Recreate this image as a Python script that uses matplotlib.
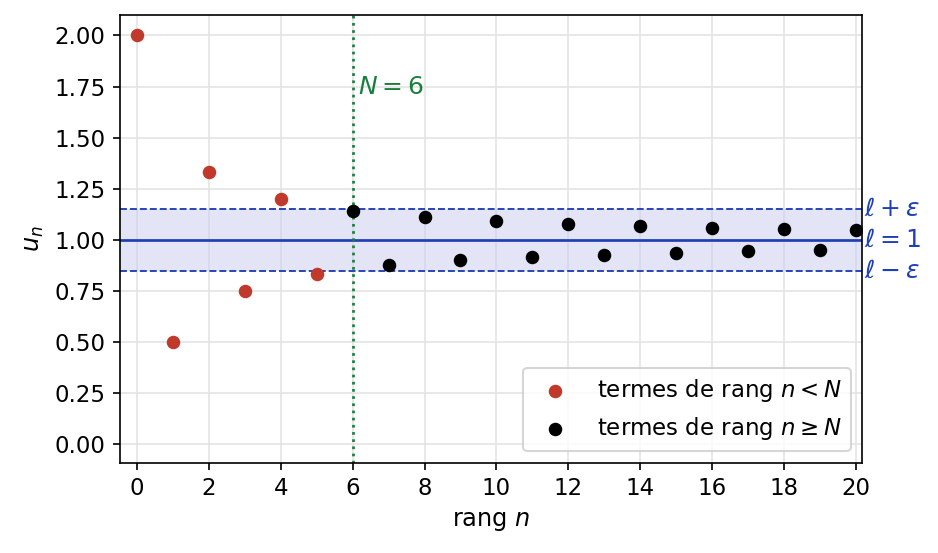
import matplotlib
matplotlib.use("Agg")
import matplotlib.pyplot as plt

# termes u_n
rangs_avant = [0, 1, 2, 3, 4, 5]
termes_avant = [2.0, 0.5, 1.3333, 0.75, 1.2, 0.8333]
rangs_apres = [6, 7, 8, 9, 10, 11, 12, 13, 14, 15, 16, 17, 18, 19, 20]
termes_apres = [1.1429, 0.875, 1.1111, 0.9, 1.0909, 0.9167, 1.0769, 0.9286,
                1.0667, 0.9375, 1.0588, 0.9444, 1.0526, 0.95, 1.0476]
limite = 1.0
epsilon = 0.15
N = 6

bleu = "#1f3fb5"
rouge = "#c0392b"
vert = "#1a7f3c"

fig, ax = plt.subplots(figsize=(938 / 150, 553 / 150), dpi=150)
fig.subplots_adjust(left=0.128, right=0.919, top=0.973, bottom=0.163)

ax.axhspan(limite - epsilon, limite + epsilon, color="#c8cdee", alpha=0.5, lw=0)
ax.axhline(limite, color=bleu, lw=1.3)
ax.axhline(limite + epsilon, color=bleu, lw=0.9, ls="--")
ax.axhline(limite - epsilon, color=bleu, lw=0.9, ls="--")
ax.axvline(N, color=vert, lw=1.3, ls=":")

ax.scatter(rangs_avant, termes_avant, color=rouge, s=30, zorder=3,
           label=r"termes de rang $n < N$")
ax.scatter(rangs_apres, termes_apres, color="black", s=30, zorder=3,
           label=r"termes de rang $n \geq N$")

ax.text(N + 0.15, 1.75, r"$N = 6$", color=vert, fontsize=12, va="center")
for y, t in [(limite + epsilon, r"$\ell + \varepsilon$"),
             (limite, r"$\ell = 1$"),
             (limite - epsilon, r"$\ell - \varepsilon$")]:
    ax.text(1.003, y, t, transform=ax.get_yaxis_transform(), color=bleu,
            fontsize=12, va="center", ha="left")

ax.set_xlim(-0.47, 20.17)
ax.set_ylim(-0.09, 2.1)
ax.set_xticks(range(0, 21, 2))
ax.set_yticks([0, 0.25, 0.5, 0.75, 1.0, 1.25, 1.5, 1.75, 2.0])
ax.tick_params(labelsize=11)
ax.grid(True, color="#e4e4e4", lw=0.8)
ax.set_axisbelow(True)
ax.set_xlabel(r"rang $n$", fontsize=11.5)
ax.set_ylabel(r"$u_n$", fontsize=11.5)
ax.legend(loc="lower right", fontsize=11)

fig.savefig("out.png", dpi=150)
